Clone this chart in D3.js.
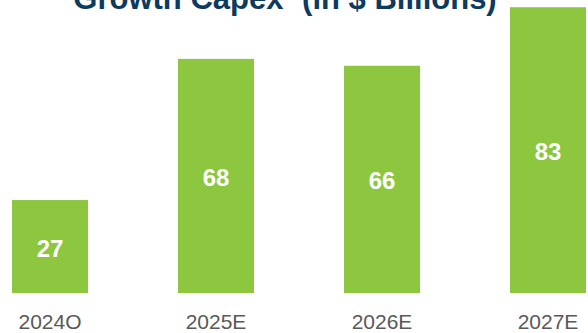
<!DOCTYPE html>
<html>
<head>
<meta charset="utf-8">
<script src="https://cdn.jsdelivr.net/npm/d3@7"></script>
<style>
  html, body { margin: 0; padding: 0; background: #fff; }
  svg { display: block; }
</style>
</head>
<body>
<svg id="chart" width="588" height="333"></svg>
<script>
// Growth capex by year, in $ billions
const categories = ["2024O", "2025E", "2026E", "2027E"];
const values = [27, 68, 66, 83];

const width = 588, height = 333;
const svg = d3.select("#chart");

const x = d3.scaleBand()
  .domain(categories)
  .range([12, 586])
  .paddingInner(0.5422)
  .paddingOuter(0);

const y = d3.scaleLinear()
  .domain([0, 85.1])
  .range([293, 0]);

// Title (its top sits above the visible area)
const title = svg.append("text")
  .attr("x", 285)
  .attr("y", 9)
  .attr("text-anchor", "middle")
  .attr("font-family", "'Liberation Sans', Arial, sans-serif")
  .attr("font-weight", "bold")
  .attr("font-size", 31)
  .attr("fill", "#0d3a5f");
title.append("tspan").text("Growth Capex");
title.append("tspan").attr("font-size", 18).attr("dy", -12).text("1");
title.append("tspan").attr("dy", 12).text(" (in $ Billions)");

// Bars
svg.append("g")
  .selectAll("rect")
  .data(categories)
  .join("rect")
  .attr("x", d => x(d))
  .attr("width", x.bandwidth())
  .attr("y", (d, i) => y(values[i]))
  .attr("height", (d, i) => y(0) - y(values[i]))
  .attr("fill", "#8dc63f");

// Value labels centred inside each bar
svg.append("g")
  .selectAll("text")
  .data(categories)
  .join("text")
  .attr("x", d => x(d) + x.bandwidth() / 2)
  .attr("y", (d, i) => (y(values[i]) + y(0)) / 2 + 1.5)
  .attr("text-anchor", "middle")
  .attr("dominant-baseline", "central")
  .attr("font-family", "'Liberation Sans', Arial, sans-serif")
  .attr("font-weight", "bold")
  .attr("font-size", 24)
  .attr("fill", "#ffffff")
  .text((d, i) => values[i]);

// Category axis
const axis = svg.append("g")
  .attr("transform", `translate(0,${y(0)})`)
  .call(d3.axisBottom(x).tickSize(0).tickPadding(0));
axis.select(".domain").remove();
axis.selectAll("text")
  .attr("dy", null)
  .attr("y", 35.5)
  .attr("font-family", "'Liberation Sans', Arial, sans-serif")
  .attr("font-size", 21)
  .attr("fill", "#595959");
</script>
</body>
</html>
